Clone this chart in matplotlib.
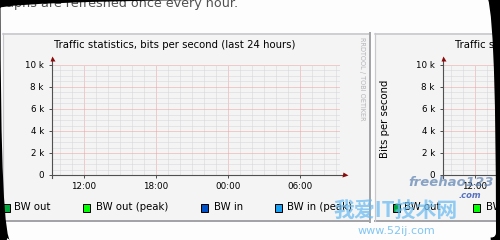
import matplotlib
matplotlib.use('Agg')
import matplotlib.pyplot as plt
from matplotlib.patches import Rectangle, FancyBboxPatch
from matplotlib.ticker import MultipleLocator

plt.rcParams['font.family'] = ['DejaVu Sans', 'Noto Sans CJK SC']

W, H = 500, 240  # output size in pixels

# 数据：流量统计（最近24小时，图中没有任何流量）
y_ticks = [0, 2, 4, 6, 8, 10]  # 千比特/秒
y_labels = ['0', '2 k', '4 k', '6 k', '8 k', '10 k']
x_ticks = [12, 18, 24, 30]  # 小时（24 = 午夜）
x_labels = ['12:00', '18:00', '00:00', '06:00']
x_start, x_end = 9 + 1 / 3, 33 + 1 / 3  # 24小时窗口
hours = []   # 没有采样数据
bw_out = []
bw_in = []
legend_labels = ['BW out', 'BW out (peak)', 'BW in', 'BW in (peak)']
legend_colors = ['#00a83c', '#00ff00', '#0050c8', '#1aa0f0']
title = 'Traffic statistics, bits per second (last 24 hours)'


def fx(x):
    return x / W


def fy(y):
    return 1 - y / H


def hline(fig, x0, x1, y, color, lw):
    fig.add_artist(plt.Line2D([fx(x0), fx(x1)], [fy(y), fy(y)], color=color,
                              lw=lw * 0.72, transform=fig.transFigure, zorder=-1))


def vline(fig, x, y0, y1, color, lw):
    fig.add_artist(plt.Line2D([fx(x), fx(x)], [fy(y0), fy(y1)], color=color,
                              lw=lw * 0.72, transform=fig.transFigure, zorder=-1))


def panel(fig, x0, x1):
    # 面板背景和边框
    fig.add_artist(Rectangle((fx(x0), fy(221)), (x1 - x0) / W, (221 - 33) / H,
                             transform=fig.transFigure, facecolor='#f4f4f5',
                             edgecolor='none', zorder=-2))
    hline(fig, x0, x1, 33.5, '#c4c4c8', 1.5)
    hline(fig, x0, x1, 221, '#a4a4a8', 2)
    vline(fig, x0, 33, 221, '#c8c8cc', 1.2)
    vline(fig, x1, 33, 222, '#a4a4a8', 2)


def graph(fig, left, title_x, legend_pos, ylabel=False):
    ax = fig.add_axes([fx(left), fy(175), 288 / W, 110 / H])
    ax.patch.set_visible(False)
    ax.plot(hours, bw_out, color=legend_colors[0])
    ax.plot(hours, bw_in, color=legend_colors[2])
    ax.set_xlim(x_start, x_end)
    ax.set_ylim(0, 10)
    ax.set_xticks(x_ticks)
    ax.set_xticklabels(x_labels)
    ax.set_yticks(y_ticks)
    ax.set_yticklabels(y_labels)
    ax.xaxis.set_minor_locator(MultipleLocator(1))
    ax.yaxis.set_minor_locator(MultipleLocator(0.5))
    ax.grid(which='minor', color='#d6d6d8', lw=0.72, ls=(0, (1, 1)))
    ax.grid(which='major', color='#eca2a2', lw=0.72, ls=(0, (1, 1)))
    ax.tick_params(which='minor', length=0)
    ax.tick_params(which='major', length=2.4, width=0.72, color='#505050',
                   labelsize=6.3, labelcolor='#000000')
    ax.tick_params(axis='y', pad=3.5)
    ax.tick_params(axis='x', pad=2.5)
    for s in ax.spines.values():
        s.set_visible(False)
    ax.set_axisbelow(True)
    # 坐标轴和箭头
    ax.plot([0, 1.018], [0, 0], color='#505050', lw=0.8, transform=ax.transAxes, clip_on=False)
    ax.plot([0, 0], [-0.027, 1.064], color='#505050', lw=0.8, transform=ax.transAxes, clip_on=False)
    ax.plot(1.018, 0, marker='>', ms=3.6, color='#8b0a0a', mec='none',
            transform=ax.transAxes, clip_on=False)
    ax.plot(0, 1.064, marker='^', ms=3.6, color='#8b0a0a', mec='none',
            transform=ax.transAxes, clip_on=False)

    fig.text(fx(title_x), fy(45), title, fontsize=7.3, va='center', ha='left')
    if ylabel:
        fig.text(fx(left - 58), fy(119), 'Bits per second', fontsize=7.3,
                 rotation=90, va='center', ha='center')
    for (sx, tx), lab, col in zip(legend_pos, legend_labels, legend_colors):
        fig.add_artist(Rectangle((fx(sx), fy(211.5)), 7 / W, 8 / H, transform=fig.transFigure,
                                 facecolor=col, edgecolor='#000000', lw=0.72, zorder=5))
        fig.text(fx(tx), fy(207), lab, fontsize=7.3, va='center', ha='left')
    return ax


fig = plt.figure(figsize=(W / 100, H / 100), dpi=100)
fig.patch.set_facecolor('#fdfdfd')

fig.text(fx(238), fy(6.5), 'Graphs are refreshed once every hour.', fontsize=9.2,
         color='#505050', ha='right', va='baseline')

panel(fig, 3, 369.5)
panel(fig, 375, 800)

graph(fig, 52, 54, [(2.5, 14), (82.5, 95.5), (201, 214), (274.5, 287)])
graph(fig, 443, 455, [(392.5, 404), (473, 485.5), (592, 605), (665, 678)], ylabel=True)

fig.text(fx(362), fy(37), 'RRDTOOL / TOBI OETIKER', fontsize=4.7, color='#b4b4b8',
         rotation=270, va='top', ha='center')

# 水印
fig.text(fx(451), fy(183), 'freehao123', fontsize=9.5, color='#5a7fb0', alpha=0.7,
         style='italic', fontweight='bold', ha='center', va='center', zorder=20)
fig.text(fx(470), fy(196), '.com', fontsize=6, color='#3050b0', alpha=0.8,
         style='italic', fontweight='bold', ha='center', va='center', zorder=20)
fig.text(fx(333), fy(210), '我爱IT技术网', fontsize=15, color='#6cbcf0', alpha=0.75,
         family=['Noto Sans CJK SC'], fontweight='bold', ha='left', va='center', zorder=20)
fig.text(fx(396), fy(231), 'www.52ij.com', fontsize=8, color='#6cbcf0', alpha=0.85,
         ha='center', va='center', zorder=20)

# 黑色圆角外框
inner = (0.5, -1.5, 496, 237.5)  # x0, y0, x1, y1 像素
bw = 12
frame = FancyBboxPatch(((inner[0] - bw / 2) / 100, (H - inner[3] - bw / 2) / 100),
                       (inner[2] - inner[0] + bw) / 100, (inner[3] - inner[1] + bw) / 100,
                       boxstyle='round,pad=0,rounding_size=%f' % ((5 + bw / 2) / 100),
                       transform=fig.dpi_scale_trans, facecolor='none', edgecolor='#000000',
                       lw=bw * 0.72, zorder=100)
fig.add_artist(frame)

fig.savefig('out.png', dpi=100)
